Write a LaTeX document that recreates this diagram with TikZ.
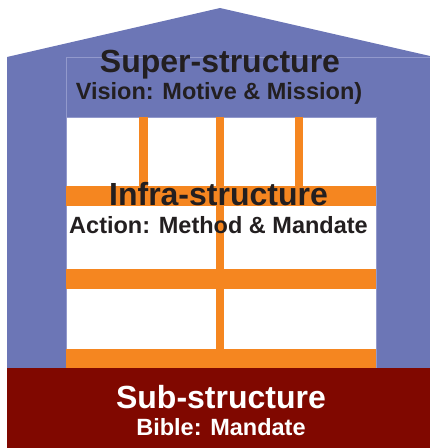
\documentclass[tikz,border=0pt]{standalone}
\usepackage{fontspec}
\setmainfont{Liberation Sans}
\definecolor{houseblue}{RGB}{108,118,182}
\definecolor{edgeblue}{RGB}{146,153,204}
\definecolor{beamorange}{RGB}{245,134,32}
\definecolor{basered}{RGB}{128,8,0}
\definecolor{inkdark}{RGB}{35,31,32}
\tikzset{
  x=1pt, y=-1pt,
  beam/.style={fill=beamorange, draw=none},
  bigtext/.style={anchor=base, inner sep=0pt, font=\bfseries\fontsize{32}{36}\selectfont},
  smalltext/.style={anchor=base, inner sep=0pt, font=\bfseries\fontsize{23.5}{28}\selectfont},
}
\begin{document}
\begin{tikzpicture}
\useasboundingbox (0,0) rectangle (430,448);
% house body and roof
\fill[houseblue] (7,57) -- (220,8) -- (430,56) -- (430,368) -- (7,368) -- cycle;
% faint inner lines
\draw[edgeblue, line width=0.7pt] (66,57) -- (430,57);
\draw[edgeblue, line width=0.7pt] (66,57) -- (66,117);
% window area
\fill[white] (66,117) rectangle (376,368);
\draw[edgeblue, line width=0.5pt] (66,368) -- (66,117) -- (376,117) -- (376,368);
% orange frame
\fill[beam] (139,117) rectangle (148,186);
\fill[beam] (295,117) rectangle (303,186);
\fill[beam] (216,117) rectangle (224,368);
\fill[beam] (66,186) rectangle (376,206);
\fill[beam] (66,269) rectangle (376,289);
\fill[beam] (66,349) rectangle (376,368);
% base
\fill[basered] (7,368) rectangle (430,448);
% texts
\node[bigtext, text=inkdark] (sup) at (220,72.5) {Super-structure};
\node[smalltext, text=inkdark] (supsub) at (219,99) {Vision: Motive \& Mission)};
\node[bigtext, text=inkdark] (inf) at (218.5,205) {Infra-structure};
\node[smalltext, text=inkdark] (infsub) at (218.5,233) {Action: Method \& Mandate};
\node[bigtext, text=white] (sub) at (221,408) {Sub-structure};
\node[smalltext, text=white] (subsub) at (221,435) {Bible: Mandate};
\end{tikzpicture}
\end{document}
